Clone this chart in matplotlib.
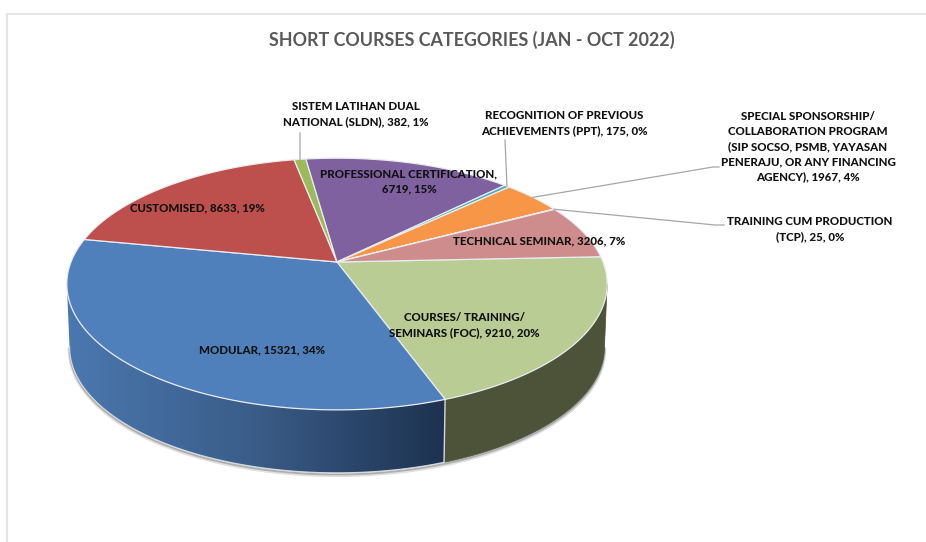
#!/usr/bin/env python3

import matplotlib
matplotlib.use('Agg')
import matplotlib.pyplot as plt
from matplotlib.patches import Polygon
import numpy as np

plt.rcParams['font.family'] = ['Lato', 'DejaVu Sans']

# clockwise from the right hand side of the pie
categories = ['COURSES/ TRAINING/\nSEMINARS (FOC)', 'MODULAR', 'CUSTOMISED',
              'SISTEM LATIHAN DUAL\nNATIONAL (SLDN)', 'PROFESSIONAL CERTIFICATION,\n',
              'RECOGNITION OF PREVIOUS\nACHIEVEMENTS (PPT)',
              'SPECIAL SPONSORSHIP/\nCOLLABORATION PROGRAM\n(SIP SOCSO, PSMB, YAYASAN\nPENERAJU, OR ANY FINANCING\nAGENCY)',
              'TRAINING CUM PRODUCTION\n(TCP)', 'TECHNICAL SEMINAR']
values = [9210, 15321, 8633, 382, 6719, 175, 1967, 25, 3206]
percents = [20, 34, 19, 1, 15, 0, 4, 0, 7]
colors = ['#B8CC94', '#4F80BC', '#BD4F4C', '#9BBB59', '#7F61A0', '#4BACC6',
          '#F79646', '#2C4D75', '#CE8D8C']
label_pos = [(464, 325.5), (262, 350), (197, 208), (356, 114), (409, 181.5),
             (564, 123), (808, 147), (810, 229.5), (539, 241)]

# perspective of the disc, in pixels
cx, cy = 337, 262
a, b, k = 266, 122, 0.175
depth = 63
start = 2.5


def project(theta, lift=0, scale=1.0):
    u, v = np.cos(theta), np.sin(theta)
    w = 1 + k * v
    return cx + scale * a * u / w, cy - b * v / w + lift


fig, ax = plt.subplots(1, figsize=(9.26, 5.42), dpi=100)
ax.set_position([0, 0, 1, 1])

ax.plot([7, 7, 926], [542, 14, 14], color='#E4E4E4', lw=1.5, zorder=1)

fracs = np.array(values) / np.sum(values) * 360
edges = np.radians(start - np.concatenate([[0], np.cumsum(fracs)]))

t_split = edges[1]
t_left = np.radians(-170)
t_right = np.radians(-10)

# soft shadow under the wall
t = np.linspace(t_right, t_left, 200)
for off, alpha, w in [(2.5, 0.12, 2.5), (1.5, 0.22, 1.5)]:
    sx, sy = project(t, depth + off, 0.99)
    ax.plot(sx, sy, color='black', alpha=alpha, lw=w, zorder=2)

# wall of the two front slices
t = np.linspace(t_split, t_left, 120)
x0, y0 = project(t)
x1, y1 = project(t[::-1], depth, 0.99)
wall = Polygon(np.column_stack([np.concatenate([x0, x1]), np.concatenate([y0, y1])]),
               facecolor='none', edgecolor='none', transform=ax.transData)
ax.add_patch(wall)
wall_blue = matplotlib.colors.LinearSegmentedColormap.from_list('w', ['#4A78AF', '#3A5C88', '#1D3250'])
img = ax.imshow(np.linspace(0, 1, 256)[None, :], cmap=wall_blue, aspect='auto', zorder=3,
                extent=(x0.min(), x0.max(), y1.max(), y0.min()), interpolation='bilinear')
img.set_clip_path(wall)

t = np.linspace(t_right, t_split, 60)
x0, y0 = project(t)
x1, y1 = project(t[::-1], depth, 0.99)
ax.fill(np.concatenate([x0, x1]), np.concatenate([y0, y1]), color='#4D5339', lw=0.5, zorder=3)

# highlight on the wall edges
t = np.linspace(t_split, t_left, 120)
sx, sy = project(t, depth, 0.99)
ax.plot(sx, sy, color='#D5D8DC', lw=0.9, zorder=4)
sx, sy = project(t_split)
ex, ey = project(t_split, depth, 0.99)
ax.plot([sx, ex], [sy, ey], color='#D5D8DC', lw=1, zorder=4)

# top face
for i, col in enumerate(colors):
    t = np.linspace(edges[i], edges[i + 1], max(4, int(fracs[i] * 2)))
    x, y = project(t)
    ax.fill(np.concatenate([[cx], x]), np.concatenate([[cy], y]), facecolor=col,
            edgecolor='#E8ECEF', lw=0.9, joinstyle='round', zorder=5)

# leader lines
def slice_mid(i):
    return project((edges[i] + edges[i + 1]) / 2)


for i, bend in [(3, [(300, 133)]), (5, [(505, 140)]),
                (6, [(713, 167), (719, 167)]), (7, [(715, 225), (724, 225)])]:
    x, y = slice_mid(i)
    ax.plot([x] + [p[0] for p in bend], [y] + [p[1] for p in bend], color='#A6A6A6', lw=0.9, zorder=6)

for name, val, pct, (x, y) in zip(categories, values, percents, label_pos):
    if name.endswith('\n'):
        text = f'{name}{val}, {pct}%'
    else:
        text = f'{name}, {val}, {pct}%'
    ax.text(x, y, text, ha='center', va='center', fontsize=8.3, fontweight='black',
            color='#111111', linespacing=1.45, zorder=7)

ax.text(472, 39.5, 'SHORT COURSES CATEGORIES (JAN - OCT 2022)', ha='center', va='center',
        fontsize=12.85, fontweight='bold', color='#595959', zorder=7)

ax.set_xlim(0, 926)
ax.set_ylim(542, 0)
ax.axis('off')

plt.savefig('out.png', dpi=100)
